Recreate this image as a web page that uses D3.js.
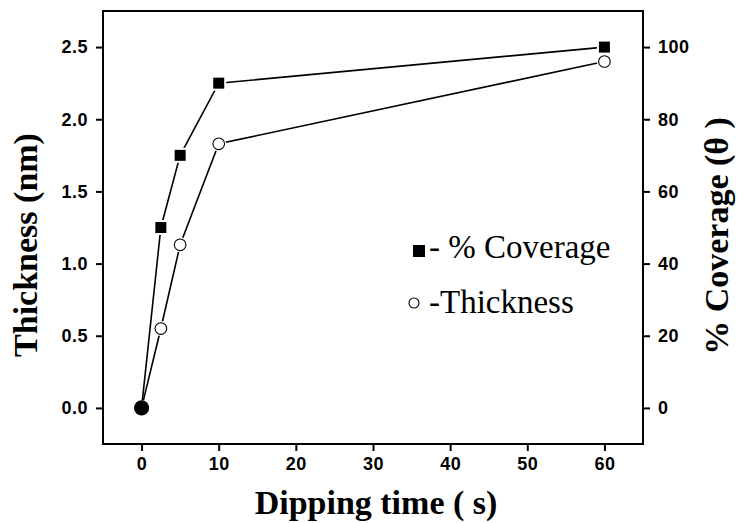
<!DOCTYPE html>
<html>
<head>
<meta charset="utf-8">
<script src="https://cdn.jsdelivr.net/npm/d3@7"></script>
<style>
  body { margin: 0; background: #fff; }
  .tick text { font-family: "Liberation Sans", Arial, sans-serif; font-weight: bold; font-size: 18px; letter-spacing: 0.5px; }
</style>
</head>
<body>
<div id="chart"></div>
<script>
var width = 738,
    height = 523

var margin = {top: 11, right: 95, bottom: 79, left: 103};

// data
var time = [0, 2.5, 5, 10, 60];
var coverage = [0, 50, 70, 90, 100];          // % coverage (right axis)
var thickness = [0, 0.55, 1.13, 1.83, 2.40];  // nm (left axis)

var xTicks = [0, 10, 20, 30, 40, 50, 60];
var leftTicks = [0, 0.5, 1.0, 1.5, 2.0, 2.5];
var rightTicks = [0, 20, 40, 60, 80, 100];

var svg = d3.select("#chart").append("svg")
    .attr("width", width)
    .attr("height", height);

var x = d3.scaleLinear().domain([-5, 65]).range([margin.left, width - margin.right]);
var yL = d3.scaleLinear().domain([-0.25, 2.75]).range([height - margin.bottom, margin.top]);
var yR = d3.scaleLinear().domain([-10, 110]).range([height - margin.bottom, margin.top]);

// axes
svg.append("g")
    .attr("transform", "translate(0," + (height - margin.bottom) + ")")
    .call(d3.axisBottom(x).tickValues(xTicks).tickSize(7).tickPadding(6).tickFormat(d3.format("d")))
    .call(g => g.select(".domain").remove());

svg.append("g")
    .attr("transform", "translate(" + margin.left + ",0)")
    .call(d3.axisLeft(yL).tickValues(leftTicks).tickSize(7).tickPadding(8).tickFormat(d3.format(".1f")))
    .call(g => g.select(".domain").remove());

svg.append("g")
    .attr("transform", "translate(" + (width - margin.right) + ",0)")
    .call(d3.axisRight(yR).tickValues(rightTicks).tickSize(7).tickPadding(8).tickFormat(d3.format("d")))
    .call(g => g.select(".domain").remove());

svg.selectAll(".tick line").attr("stroke", "#000").attr("stroke-width", 2);
svg.selectAll(".tick text").attr("fill", "#000");

// frame
svg.append("rect")
    .attr("x", margin.left)
    .attr("y", margin.top)
    .attr("width", width - margin.left - margin.right)
    .attr("height", height - margin.top - margin.bottom)
    .attr("fill", "none")
    .attr("stroke", "#000")
    .attr("stroke-width", 2);

var covData = time.map((t, i) => ({t: t, v: coverage[i]}));
var thkData = time.map((t, i) => ({t: t, v: thickness[i]}));

var lineCov = d3.line().x(d => x(d.t)).y(d => yR(d.v));
var lineThk = d3.line().x(d => x(d.t)).y(d => yL(d.v));

svg.append("path")
    .datum(covData)
    .attr("d", lineCov)
    .attr("fill", "none")
    .attr("stroke", "#000")
    .attr("stroke-width", 1.6);

svg.append("path")
    .datum(thkData)
    .attr("d", lineThk)
    .attr("fill", "none")
    .attr("stroke", "#000")
    .attr("stroke-width", 1.6);

// square markers
svg.selectAll("rect.cov")
    .data(covData)
    .enter().append("rect")
    .attr("class", "cov")
    .attr("x", d => x(d.t) - 6.5)
    .attr("y", d => yR(d.v) - 6.5)
    .attr("width", 13)
    .attr("height", 13)
    .attr("fill", "#000")
    .attr("stroke", "#fff")
    .attr("stroke-width", 2);

// circle markers (halo then circle)
svg.selectAll("circle.halo")
    .data(thkData)
    .enter().append("circle")
    .attr("class", "halo")
    .attr("cx", d => x(d.t))
    .attr("cy", d => yL(d.v))
    .attr("r", d => d.v == 0 ? 0 : 7.5)
    .attr("fill", "#fff");

svg.selectAll("circle.thk")
    .data(thkData)
    .enter().append("circle")
    .attr("class", "thk")
    .attr("cx", d => x(d.t))
    .attr("cy", d => yL(d.v))
    .attr("r", d => d.v == 0 ? 7 : 5.8)
    .attr("fill", d => d.v == 0 ? "#000" : "#fff")
    .attr("stroke", "#000")
    .attr("stroke-width", 1.1);

// axis titles
var titleFont = "'Liberation Serif', 'Times New Roman', serif";

svg.append("text")
    .attr("x", 376)
    .attr("y", 514)
    .attr("text-anchor", "middle")
    .style("font-family", titleFont)
    .style("font-weight", "bold")
    .style("font-size", "34px")
    .text("Dipping time ( s)");

svg.append("text")
    .attr("transform", "translate(37,245) rotate(-90)")
    .attr("text-anchor", "middle")
    .style("font-family", titleFont)
    .style("font-weight", "bold")
    .style("font-size", "34px")
    .text("Thickness (nm)");

svg.append("text")
    .attr("transform", "translate(728,236) rotate(-90)")
    .attr("text-anchor", "middle")
    .style("font-family", titleFont)
    .style("font-weight", "bold")
    .style("font-size", "34px")
    .text("% Coverage (\u03B8 )");

// legend
svg.append("rect")
    .attr("x", 413)
    .attr("y", 245)
    .attr("width", 12)
    .attr("height", 12)
    .attr("fill", "#000");

svg.append("text")
    .attr("x", 429)
    .attr("y", 258)
    .style("font-family", titleFont)
    .style("font-size", "33px")
    .text("- % Coverage");

svg.append("circle")
    .attr("cx", 414)
    .attr("cy", 303)
    .attr("r", 5)
    .attr("fill", "#fff")
    .attr("stroke", "#000")
    .attr("stroke-width", 1.1);

svg.append("text")
    .attr("x", 429)
    .attr("y", 313)
    .style("font-family", titleFont)
    .style("font-size", "33px")
    .text("-Thickness");
</script>
</body>
</html>
